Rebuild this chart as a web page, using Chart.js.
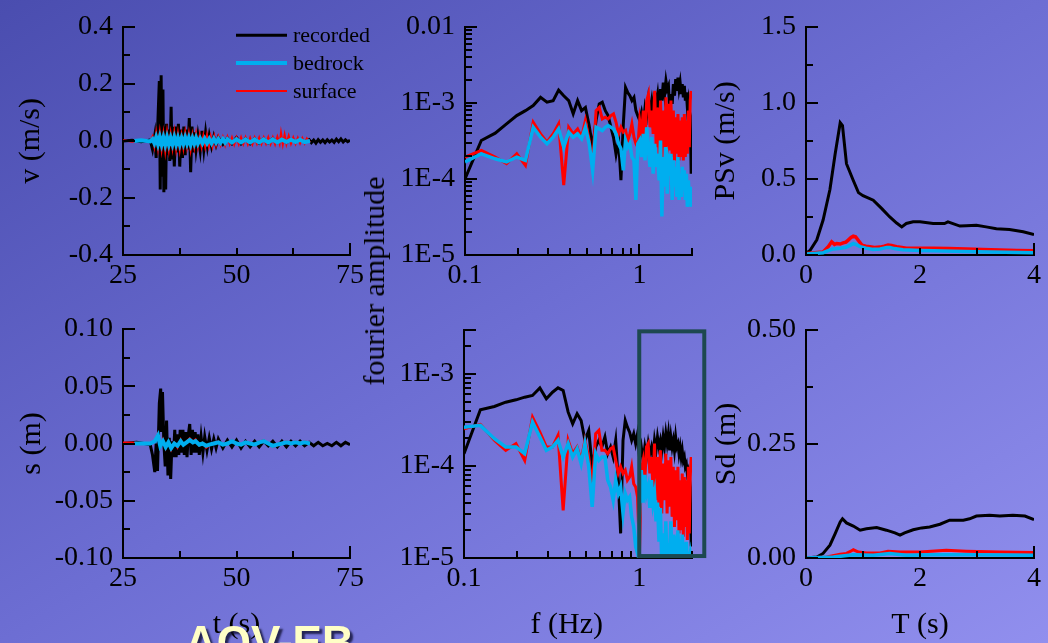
<!DOCTYPE html>
<html>
<head>
<meta charset="utf-8">
<title>AQV-EB ground motion</title>
<script src="https://cdn.jsdelivr.net/npm/chart.js@4.4.0/dist/chart.umd.min.js"></script>
<style>
  html, body { margin: 0; padding: 0; }
  body { width: 1048px; height: 643px; overflow: hidden; }
  #stage {
    position: relative; width: 1048px; height: 643px; overflow: hidden;
    background: linear-gradient(to bottom right, #4a4daf 0%, #6d6ed3 50%, #918fee 100%);
  }
  #stage canvas { position: absolute; left: 0; top: 0; }
  .txt { position: absolute; white-space: nowrap; line-height: 1; }
  #fourier {
    left: 374px; top: 281px; font: 30px "Liberation Serif", serif; color: #000;
    transform: translate(-50%, -50%) rotate(-90deg);
  }
  #station {
    left: 185px; top: 617px; font: bold 44px "Liberation Sans", Arial, sans-serif;
    color: #ffffc6; text-shadow: 3px 3px 2px rgba(10, 10, 40, 0.75);
  }
</style>
</head>
<body>
<div id="stage">
  <canvas id="cVel" width="1048" height="643"></canvas>
  <canvas id="cFasVel" width="1048" height="643"></canvas>
  <canvas id="cPsv" width="1048" height="643"></canvas>
  <canvas id="cDisp" width="1048" height="643"></canvas>
  <canvas id="cFasDisp" width="1048" height="643"></canvas>
  <canvas id="cSd" width="1048" height="643"></canvas>
  <div class="txt" id="fourier">fourier amplitude</div>
  <div class="txt" id="station">AQV-EB</div>
</div>
<script>
// ---------- series labels ----------
const seriesNames = ['recorded', 'bedrock', 'surface'];

// ---------- velocity time histories [t (s), v (m/s)] ----------
const velRecorded = [
  [25,0],[27,0.002],[29,-0.003],[31,0.003],[31.5,-0.03],[32,0.02],[32.3,-0.06],[32.6,0.03],
  [33,0.21],[33.2,-0.17],[33.4,0.23],[33.6,-0.12],[33.8,0.18],[34,-0.18],[34.2,0.05],[34.4,-0.17],
  [34.6,0.06],[34.8,-0.05],[35,0.04],[35.3,-0.07],[35.6,0.12],[35.8,-0.06],[36,0.05],[36.3,-0.09],
  [36.6,0.05],[36.9,-0.04],[37.2,0.06],[37.5,-0.09],[37.8,0.04],[38.1,-0.06],[38.4,0.05],[38.7,-0.05],
  [39,0.04],[39.3,-0.03],[39.6,0.08],[39.9,-0.11],[40.2,0.05],[40.5,-0.04],[40.8,0.03],[41.1,-0.03],
  [41.5,0.02],[42,-0.035],[42.4,0.035],[42.8,-0.03],[43.2,0.03],[43.6,-0.02],[44,0.02],[44.5,-0.02],
  [45,0.015],[45.5,-0.015],[46,0.012],[47,-0.012],[48,0.01],[49,-0.01],[50,0.012],[51,-0.01],
  [52,0.008],[53,-0.01],[54,0.008],[55,-0.008],[56,0.007],[57,-0.007],[58,0.008],[59,-0.006],
  [60,0.006],[61,-0.006],[62,0.005],[63,-0.005],[64,0.005],[65,-0.004],[66,0.004],[66.5,-0.006],
  [67,0.003],[67.5,-0.008],[68,0.004],[68.5,-0.005],[69,0.003],[69.5,-0.006],[70,0.004],[70.5,-0.004],
  [71,0.003],[71.5,-0.005],[72,0.006],[72.5,-0.003],[73,0.007],[73.5,-0.004],[74,0.004],[74.5,-0.003],[75,0.002]
];
const velBedrock = [
  [27.5,0],[29,0.002],[31,-0.002],[31.5,0.006],[31.9,-0.008],[32.3,0.012],[32.7,-0.011],[33.1,0.013],
  [33.5,-0.012],[33.9,0.011],[34.3,-0.013],[34.7,0.012],[35.1,-0.012],[35.5,0.01],[35.9,-0.011],[36.3,0.012],
  [36.7,-0.011],[37.1,0.01],[37.5,-0.012],[37.9,0.009],[38.3,-0.01],[38.7,0.011],[39.1,-0.009],[39.5,0.01],
  [39.9,-0.012],[40.3,0.009],[40.7,-0.009],[41.1,0.01],[41.5,-0.009],[42,0.008],[42.5,-0.008],[43,0.008],
  [43.5,-0.008],[44,0.007],[44.5,-0.008],[45,0.007],[45.5,-0.006],[46,0.006],[46.5,-0.006],[47,0.006],
  [47.5,-0.006],[48,0.006],[49,-0.006],[50,0.006],[51,-0.005],[52,0.005],[53,-0.005],[54,0.005],
  [55,-0.005],[56,0.005],[57,-0.005],[58,0.005],[59,-0.005],[60,0.005],[61,-0.004],[62,0.004],
  [63,-0.004],[64,0.004],[65,-0.004],[66.2,0]
];
const velSurface = [
  [25,0.002],[27,-0.003],[29,0.003],[31,-0.003],[31.5,0.015],[31.9,-0.02],[32.3,0.028],[32.7,-0.025],
  [33.1,0.03],[33.5,-0.03],[33.9,0.025],[34.3,-0.035],[34.7,0.03],[35.1,-0.03],[35.5,0.025],[35.9,-0.025],
  [36.3,0.03],[36.7,-0.028],[37.1,0.025],[37.5,-0.03],[37.9,0.02],[38.3,-0.025],[38.7,0.028],[39.1,-0.02],
  [39.5,0.025],[39.9,-0.03],[40.3,0.02],[40.7,-0.022],[41.1,0.025],[41.5,-0.02],[41.9,0.02],[42.3,-0.02],
  [42.7,0.018],[43.1,-0.02],[43.5,0.02],[43.9,-0.018],[44.3,0.015],[44.7,-0.018],[45.1,0.016],[45.5,-0.015],
  [46,0.015],[46.5,-0.014],[47,0.013],[47.5,-0.015],[48,0.014],[48.5,-0.012],[49,0.012],[49.5,-0.013],
  [50,0.012],[50.5,-0.012],[51,0.013],[51.5,-0.011],[52,0.012],[52.5,-0.012],[53,0.011],[53.5,-0.012],
  [54,0.012],[54.5,-0.01],[55,0.012],[55.5,-0.011],[56,0.012],[56.5,-0.01],[57,0.013],[57.5,-0.011],
  [58,0.012],[58.5,-0.012],[59,0.015],[59.5,-0.01],[59.8,0.028],[60.2,-0.012],[60.6,0.022],[61,-0.011],
  [61.5,0.018],[62,-0.01],[62.5,0.012],[63,-0.01],[63.5,0.011],[64,-0.009],[64.5,0.01],[65,-0.009],
  [65.5,0.009],[66.2,-0.005]
];

// ---------- displacement time histories [t (s), s (m)] ----------
const dispRecorded = [
  [25,0],[28,0.001],[31,-0.001],[31.5,-0.01],[32,-0.025],[32.3,0],[32.6,-0.024],[33,0.035],
  [33.3,0.048],[33.5,0.01],[33.7,0.045],[34,0],[34.3,-0.02],[34.6,0.02],[34.9,-0.028],[35.2,0.005],
  [35.5,-0.031],[35.8,0.002],[36.1,-0.012],[36.4,0.012],[36.7,-0.012],[37,0.008],[37.3,-0.01],[37.6,0.012],
  [37.9,-0.008],[38.2,0.012],[38.5,-0.01],[38.8,0.01],[39.1,-0.012],[39.4,0.008],[39.7,0.017],[40,-0.01],
  [40.3,0.012],[40.6,-0.008],[40.9,0.01],[41.2,-0.008],[41.5,0.008],[41.8,-0.01],[42.2,0.006],[42.6,-0.008],
  [43,0.006],[43.5,-0.006],[44,0.005],[44.5,-0.005],[45,0.004],[45.5,-0.004],[46,0.004],[47,-0.004],
  [48,0.003],[49,-0.003],[50,0.003],[51,-0.004],[52,0.002],[53,-0.003],[54,0.002],[55,-0.003],
  [56,0.002],[57,-0.002],[58,0.002],[59,-0.003],[60,0.002],[61,-0.003],[62,0.002],[63,-0.002],
  [64,0.002],[65,-0.002],[66,0.001],[67,-0.002],[68,0.001],[69,-0.002],[70,0],[71,-0.002],
  [72,0.001],[73,-0.002],[74,0.001],[75,-0.001]
];
const dispBedrock = [
  [27.5,0],[31,0],[32,0.002],[32.7,0.007],[33.2,-0.002],[33.8,0.002],[34.4,-0.003],[35,0.001],
  [35.6,-0.004],[36.3,0],[37,-0.002],[37.7,0.002],[38.3,-0.001],[39,0.001],[39.7,0.003],[40.4,0.001],
  [41,0.002],[41.8,-0.001],[42.5,0],[43.3,-0.002],[44,-0.001],[45,0],[46,0.001],[47,-0.001],
  [48,0],[49,0.002],[50,0],[51,-0.001],[52,0.001],[53,0],[54,-0.001],[55,0.001],
  [56,0.002],[57,0],[58,-0.002],[59,-0.001],[60,0],[61,0.001],[62,0],[63,0.001],
  [64,0],[65,0.001],[66.2,0]
];
const dispSurface = [
  [25,0.001],[27,0.001],[31,0],[32,0.002],[32.7,0.009],[33.2,-0.003],[33.8,0.004],[34.4,-0.005],
  [35,0.002],[35.6,-0.006],[36.3,0.001],[37,-0.004],[37.7,0.004],[38.3,-0.002],[39,0.002],[39.7,0.005],
  [40.4,0.002],[41,0.004],[41.8,-0.002],[42.5,0.001],[43.3,-0.004],[44,-0.002],[45,0.001],[46,0.002],
  [47,-0.002],[48,0.001],[49,0.003],[50,0],[51,-0.002],[52,0.002],[53,0.001],[54,-0.002],
  [55,0.002],[56,0.003],[57,0],[58,-0.003],[59,-0.002],[60,0.001],[61,0.002],[62,0.001],
  [63,0.002],[64,0.001],[65,0.002],[66.2,0.001]
];

// ---------- Fourier spectra ----------
const freqHz = [
  0.100,0.124,0.149,0.173,0.198,0.222,0.246,0.271,0.295,0.320,
  0.344,0.368,0.393,0.417,0.442,0.466,0.490,0.515,0.539,0.564,
  0.588,0.612,0.637,0.661,0.686,0.710,0.734,0.759,0.783,0.808,
  0.832,0.856,0.881,0.905,0.930,0.954,0.978,1.003,1.027,1.052,
  1.076,1.100,1.125,1.149,1.174,1.198,1.222,1.247,1.271,1.296,
  1.320,1.344,1.369,1.393,1.418,1.442,1.466,1.491,1.515,1.540,
  1.564,1.588,1.613,1.637,1.662,1.686,1.710,1.735,1.759,1.784,
  1.808,1.832,1.857,1.881,1.906,1.930,1.954,1.979
];
const fasVelRecorded = [
  1.0e-4,3.2e-4,4.0e-4,5.3e-4,6.8e-4,7.9e-4,9.2e-4,1.18e-3,1.02e-3,1.07e-3,
  1.47e-3,1.24e-3,1.07e-3,7.2e-4,1.07e-3,7.9e-4,8.7e-4,5.0e-4,2.6e-4,5.9e-4,
  9.7e-4,1.02e-3,7.9e-4,6.8e-4,4.8e-4,3.5e-4,2.1e-4,3.2e-4,9.6e-5,5.3e-4,
  1.59e-3,1.37e-3,1.24e-3,1.07e-3,1.18e-3,7.9e-4,6.8e-4,5.9e-4,7.5e-4,5.3e-4,
  8.7e-4,6.8e-4,1.12e-3,7.9e-4,1.07e-3,6.8e-4,1.37e-3,9.7e-4,1.30e-3,7.9e-4,
  1.52e-3,1.07e-3,1.85e-3,1.30e-3,1.95e-3,1.52e-3,1.68e-3,7.2e-4,1.30e-3,9.7e-4,
  1.76e-3,1.24e-3,2.05e-3,1.44e-3,2.15e-3,1.52e-3,1.85e-3,1.30e-3,1.76e-3,1.18e-3,
  1.68e-3,1.07e-3,1.37e-3,8.7e-4,1.07e-3,7.9e-4,6.8e-4,1.17e-4
];
const fasVelBedrock = [
  1.67e-4,2.14e-4,1.84e-4,1.67e-4,1.94e-4,1.75e-4,4.78e-4,3.54e-4,2.9e-4,3.54e-4,
  4.55e-4,2.62e-4,4.11e-4,3.54e-4,3.91e-4,3.37e-4,4.78e-4,2.9e-4,1.30e-4,4.78e-4,
  4.55e-4,4.33e-4,4.78e-4,5.03e-4,4.78e-4,4.55e-4,3.91e-4,2.9e-4,2.49e-4,1.30e-4,
  3.2e-4,2.62e-4,2.9e-4,1.94e-4,1.75e-4,5.3e-5,2.9e-4,3.2e-4,1.94e-4,3.91e-4,
  1.75e-4,4.78e-4,2.37e-4,1.44e-4,3.54e-4,1.17e-4,2.9e-4,1.44e-4,2.14e-4,9.6e-5,
  3.2e-4,3.2e-5,1.94e-4,7.9e-5,2.62e-4,6.4e-5,1.75e-4,1.44e-4,2.14e-4,5.3e-5,
  1.75e-4,7.9e-5,1.44e-4,5.8e-5,1.94e-4,5.3e-5,1.17e-4,5.8e-5,1.44e-4,7.9e-5,
  1.30e-4,5.3e-5,1.17e-4,4.3e-5,9.6e-5,5.3e-5,7.9e-5,4.3e-5
];
const fasVelSurface = [
  1.94e-4,2.37e-4,1.94e-4,1.59e-4,2.14e-4,1.51e-4,5.56e-4,3.91e-4,3.05e-4,3.91e-4,
  5.29e-4,8.3e-5,4.78e-4,3.91e-4,4.55e-4,3.54e-4,5.85e-4,3.2e-4,1.59e-4,7.9e-4,
  8.7e-4,6.15e-4,6.46e-4,6.15e-4,6.8e-4,7.15e-4,5.56e-4,3.91e-4,4.78e-4,4.11e-4,
  4.33e-4,3.2e-4,3.91e-4,5.29e-4,3.54e-4,2.9e-4,2.62e-4,5.85e-4,3.91e-4,7.9e-4,
  3.2e-4,1.07e-3,1.30e-3,4.78e-4,7.9e-4,3.91e-4,1.44e-3,2.62e-4,8.7e-4,2.14e-4,
  1.07e-3,1.94e-4,7.9e-4,2.62e-4,1.18e-3,1.94e-4,9.7e-4,2.37e-4,1.07e-3,1.94e-4,
  7.9e-4,1.75e-4,6.46e-4,2.14e-4,7.15e-4,1.75e-4,5.85e-4,1.94e-4,6.46e-4,1.75e-4,
  7.15e-4,1.94e-4,5.85e-4,2.14e-4,7.9e-4,2.62e-4,1.07e-3,1.44e-3
];
const fasDispRecorded = [
  1.36e-4,4.07e-4,4.43e-4,4.93e-4,5.23e-4,5.59e-4,5.83e-4,7.05e-4,5.36e-4,6.33e-4,
  7.05e-4,6.6e-4,3.84e-4,2.87e-4,3.69e-4,3.12e-4,1.90e-4,2.43e-4,9.8e-5,1.61e-4,
  1.90e-4,1.61e-4,2.06e-4,1.36e-4,1.61e-4,1.25e-4,1.90e-4,7.0e-5,1.85e-5,1.90e-4,
  3.12e-4,2.64e-4,2.33e-4,1.90e-4,2.24e-4,1.75e-4,2.24e-4,1.25e-4,1.61e-4,1.15e-4,
  1.61e-4,1.25e-4,1.75e-4,1.36e-4,1.61e-4,1.25e-4,1.90e-4,1.48e-4,2.06e-4,1.61e-4,
  1.90e-4,1.48e-4,2.06e-4,1.61e-4,2.24e-4,1.75e-4,2.24e-4,1.48e-4,2.06e-4,1.61e-4,
  1.90e-4,1.48e-4,2.06e-4,1.61e-4,1.75e-4,1.36e-4,1.61e-4,1.25e-4,1.48e-4,1.15e-4,
  1.25e-4,9.8e-5,1.05e-4,8.3e-5,9.0e-5,7.6e-5,5.9e-5,1.33e-5
];
const fasDispBedrock = [
  2.64e-4,2.76e-4,1.98e-4,1.61e-4,1.61e-4,1.36e-4,3.0e-4,2.06e-4,1.48e-4,1.61e-4,
  1.90e-4,1.25e-4,1.75e-4,1.25e-4,1.54e-4,1.06e-4,1.75e-4,9.8e-5,3.6e-5,1.36e-4,
  1.15e-4,1.25e-4,1.25e-4,7.0e-5,5.9e-5,4.25e-5,7.0e-5,5.0e-5,5.9e-5,3.05e-5,
  5.0e-5,4.25e-5,4.6e-5,2.8e-5,2.18e-5,1.33e-5,1.12e-5,3.0e-5,9.0e-5,4.0e-5,
  8.0e-5,5.0e-5,6.0e-5,3.5e-5,7.0e-5,4.0e-5,5.0e-5,2.5e-5,4.0e-5,1.5e-5,
  3.5e-5,8.8e-6,1.85e-5,9.5e-6,2.5e-5,8.1e-6,1.44e-5,1.12e-5,2.5e-5,8.8e-6,
  1.8e-5,8.8e-6,1.22e-5,9.5e-6,2.0e-5,8.8e-6,1.22e-5,1.03e-5,1.8e-5,8.8e-6,
  1.12e-5,9.5e-6,1.5e-5,8.8e-6,1.03e-5,9.5e-6,1.12e-5,9.5e-6
];
const fasDispSurface = [
  2.54e-4,2.83e-4,1.90e-4,1.48e-4,1.75e-4,1.15e-4,3.39e-4,2.33e-4,1.61e-4,1.61e-4,
  2.15e-4,3.3e-5,1.90e-4,1.36e-4,1.61e-4,1.15e-4,1.90e-4,1.25e-4,5.9e-5,2.24e-4,
  2.43e-4,1.48e-4,1.48e-4,1.36e-4,1.54e-4,1.61e-4,1.15e-4,8.3e-5,9.8e-5,8.3e-5,
  9.0e-5,7.0e-5,7.6e-5,9.8e-5,6.4e-5,5.9e-5,4.6e-5,1.12e-5,9.0e-5,1.15e-4,
  7.0e-5,1.61e-4,1.75e-4,8.3e-5,1.25e-4,5.9e-5,1.75e-4,4.25e-5,1.25e-4,3.6e-5,
  1.48e-4,3.05e-5,1.06e-4,4.25e-5,1.36e-4,3.05e-5,1.15e-4,3.6e-5,1.25e-4,2.8e-5,
  9.8e-5,2.18e-5,9.0e-5,2.58e-5,9.8e-5,1.85e-5,7.0e-5,2.01e-5,8.3e-5,1.70e-5,
  7.6e-5,2.18e-5,7.0e-5,1.57e-5,9.8e-5,1.85e-5,7.6e-5,1.25e-4
];

// ---------- response spectra [T (s), value] ----------
const psvRecorded = [
  [0,0.01],[0.07,0.03],[0.19,0.1],[0.3,0.23],[0.42,0.43],[0.51,0.66],[0.6,0.87],[0.64,0.85],
  [0.71,0.6],[0.83,0.49],[0.92,0.41],[1.0,0.39],[1.18,0.36],[1.33,0.305],[1.47,0.25],[1.59,0.21],
  [1.68,0.185],[1.76,0.207],[1.88,0.218],[2.0,0.218],[2.23,0.207],[2.43,0.207],[2.49,0.218],[2.7,0.19],
  [2.81,0.192],[2.99,0.196],[3.16,0.185],[3.34,0.172],[3.57,0.168],[3.81,0.153],[4.0,0.135]
];
const psvBedrock = [
  [0,0.007],[0.3,0.015],[0.4,0.03],[0.48,0.04],[0.6,0.044],[0.7,0.05],[0.78,0.065],[0.83,0.076],
  [0.88,0.068],[0.95,0.055],[1.05,0.045],[1.18,0.037],[1.3,0.04],[1.42,0.05],[1.47,0.05],[1.55,0.042],
  [1.7,0.035],[2.0,0.03],[2.23,0.028],[2.6,0.025],[3.0,0.022],[3.5,0.018],[4.0,0.015]
];
const psvSurface = [
  [0,0.01],[0.3,0.02],[0.39,0.055],[0.45,0.087],[0.5,0.07],[0.54,0.076],[0.6,0.072],[0.65,0.08],
  [0.7,0.085],[0.74,0.098],[0.79,0.115],[0.83,0.124],[0.87,0.12],[0.89,0.11],[0.94,0.085],[0.98,0.065],
  [1.05,0.058],[1.12,0.055],[1.2,0.05],[1.3,0.052],[1.37,0.058],[1.44,0.065],[1.5,0.062],[1.59,0.055],
  [1.68,0.05],[1.76,0.044],[2.0,0.044],[2.23,0.044],[2.5,0.042],[2.81,0.039],[3.1,0.036],[3.4,0.033],
  [3.7,0.03],[4.0,0.028]
];
const sdRecorded = [
  [0,0],[0.19,0.002],[0.3,0.01],[0.42,0.028],[0.51,0.053],[0.6,0.079],[0.64,0.086],[0.71,0.077],
  [0.83,0.07],[0.95,0.061],[1.06,0.064],[1.24,0.067],[1.41,0.061],[1.56,0.055],[1.65,0.05],[1.73,0.055],
  [1.88,0.062],[2.03,0.066],[2.17,0.068],[2.35,0.074],[2.52,0.083],[2.76,0.083],[2.87,0.086],[2.99,0.092],
  [3.22,0.094],[3.4,0.092],[3.63,0.094],[3.84,0.092],[4.0,0.084]
];
const sdBedrock = [
  [0,0],[0.48,0.002],[0.83,0.007],[1.18,0.006],[1.47,0.01],[1.76,0.006],[2.23,0.007],[2.81,0.007],[4.0,0.006]
];
const sdSurface = [
  [0,0],[0.36,0.002],[0.6,0.008],[0.71,0.01],[0.8,0.016],[0.83,0.018],[0.92,0.013],[1.06,0.011],
  [1.3,0.011],[1.44,0.015],[1.65,0.013],[2.0,0.013],[2.46,0.017],[2.81,0.015],[3.4,0.013],[4.0,0.012]
];

// ---------- drawing ----------
const W = 1048, H = 643;
const SERIF = '"Liberation Serif", "Times New Roman", serif';
const tickFont = { family: SERIF, size: 28 };
const titleFont = { family: SERIF, size: 30 };
const INK = '#000000';
const LINE = {
  recorded: { color: '#000000', order: 3 },
  bedrock:  { color: '#00aeef', order: 1 },
  surface:  { color: '#ff0000', order: 2 }
};

const pairsToPoints = pairs => pairs.map(([x, y]) => ({ x, y }));
const zipPoints = (xs, ys) => xs.map((x, i) => ({ x, y: ys[i] }));

function series(name, points, width) {
  return {
    label: name, data: points, borderColor: LINE[name].color, backgroundColor: LINE[name].color,
    borderWidth: width, pointRadius: 0, fill: false, tension: 0, order: LINE[name].order,
    borderJoinStyle: 'miter'
  };
}

// tick marks pointing into the plot area
function tickMarks(scale) {
  const marks = [];
  const horiz = scale.isHorizontal();
  const near = (a, b) => Math.abs(a - b) <= Math.abs(b) * 1e-7 + 1e-12;
  if (scale.type === 'logarithmic') {
    const lo = Math.floor(Math.log10(scale.min) + 1e-9);
    const hi = Math.ceil(Math.log10(scale.max) - 1e-9);
    for (let e = lo; e <= hi; e++) {
      for (let m = 1; m <= 9; m++) {
        const v = m * Math.pow(10, e);
        if (v < scale.min * (1 - 1e-9) || v > scale.max * (1 + 1e-9)) continue;
        const decade = m === 1;
        let len;
        if (horiz) len = decade ? 11 : 7;
        else len = (decade || near(v, scale.max)) ? 12 : 7;
        marks.push({ value: v, len });
      }
    }
  } else {
    const vals = scale.ticks.map(t => t.value);
    vals.forEach((v, i) => {
      const atMax = near(v, scale.max);
      marks.push({ value: v, len: horiz ? (atMax ? 12 : 7) : 12 });
      if (i < vals.length - 1) marks.push({ value: (v + vals[i + 1]) / 2, len: 7 });
    });
  }
  return marks;
}

const innerTicks = {
  id: 'innerTicks',
  afterDraw(chart) {
    const { ctx, chartArea } = chart;
    ctx.save();
    ctx.strokeStyle = INK;
    ctx.lineWidth = 2;
    Object.values(chart.scales).forEach(scale => {
      tickMarks(scale).forEach(m => {
        const p = Math.round(scale.getPixelForValue(m.value));
        ctx.beginPath();
        if (scale.isHorizontal()) {
          ctx.moveTo(p, chartArea.bottom);
          ctx.lineTo(p, chartArea.bottom - m.len);
        } else {
          ctx.moveTo(chartArea.left, p);
          ctx.lineTo(chartArea.left + m.len, p);
        }
        ctx.stroke();
      });
    });
    ctx.restore();
  }
};

const legendBox = {
  id: 'legendBox',
  afterDraw(chart, args, opts) {
    if (!opts || !opts.show) return;
    const { ctx, chartArea } = chart;
    ctx.save();
    ctx.font = opts.fontSize + 'px ' + SERIF;
    ctx.textBaseline = 'middle';
    ctx.textAlign = 'left';
    ctx.fillStyle = INK;
    chart.data.datasets.forEach((ds, i) => {
      const y = chartArea.top + opts.offsetY + i * opts.rowGap;
      const x0 = chartArea.left + opts.offsetX;
      ctx.strokeStyle = ds.borderColor;
      ctx.lineWidth = ds.borderWidth;
      ctx.beginPath();
      ctx.moveTo(x0, y);
      ctx.lineTo(x0 + opts.lineLen, y);
      ctx.stroke();
      ctx.fillText(ds.label, x0 + opts.lineLen + opts.gap, y + 1);
    });
    ctx.restore();
  }
};

// highlight box given in data coordinates (frequency, amplitude)
const bandFrame = {
  id: 'bandFrame',
  afterDraw(chart, args, opts) {
    if (!opts || !opts.show) return;
    const { ctx } = chart;
    const xs = chart.scales.x, ys = chart.scales.y;
    const x1 = xs.getPixelForValue(opts.f[0]), x2 = xs.getPixelForValue(opts.f[1]);
    const y1 = ys.getPixelForValue(opts.a[0]), y2 = ys.getPixelForValue(opts.a[1]);
    ctx.save();
    ctx.strokeStyle = opts.color;
    ctx.lineWidth = opts.width;
    ctx.strokeRect(x1, y1, x2 - x1, y2 - y1);
    ctx.restore();
  }
};

function linearAxis(min, max, step, digits, title, pad) {
  return {
    type: 'linear', min, max,
    grid: { display: false, drawTicks: false },
    border: { display: true, color: INK, width: 2 },
    ticks: {
      stepSize: step, autoSkip: false, maxRotation: 0, minRotation: 0, padding: pad,
      color: INK, font: tickFont, callback: v => Number(v).toFixed(digits)
    },
    title: title ? { display: true, text: title, color: INK, font: titleFont, padding: { top: 0, bottom: 0 } } : { display: false }
  };
}

function logAxis(min, max, fmt, title, pad) {
  return {
    type: 'logarithmic', min, max,
    grid: { display: false, drawTicks: false },
    border: { display: true, color: INK, width: 2 },
    ticks: {
      autoSkip: false, maxRotation: 0, minRotation: 0, padding: pad, color: INK, font: tickFont,
      callback: v => {
        const e = Math.log10(v), r = Math.round(e);
        return Math.abs(e - r) < 1e-6 ? fmt(r) : '';
      }
    },
    title: title ? { display: true, text: title, color: INK, font: titleFont, padding: { top: 0, bottom: 0 } } : { display: false }
  };
}

function panel(id, box, datasets, xAxis, yAxis, extra) {
  extra = extra || {};
  xAxis.afterFit = s => { s.height = box.xH; };
  yAxis.afterFit = s => { s.width = box.yW; };
  return new Chart(document.getElementById(id), {
    type: 'line',
    data: { datasets },
    options: {
      responsive: false, maintainAspectRatio: false, animation: false, devicePixelRatio: 1, events: [],
      layout: { padding: { left: box.left - box.yW, top: box.top, right: W - box.right, bottom: H - box.bottom - box.xH } },
      plugins: {
        legend: { display: false }, tooltip: { enabled: false }, title: { display: false },
        legendBox: extra.legend || { show: false },
        bandFrame: extra.frame || { show: false }
      },
      scales: { x: xAxis, y: yAxis }
    },
    plugins: [innerTicks, legendBox, bandFrame]
  });
}

const yLogFmt = r => (r === -2 ? '0.01' : '1E' + r);
const xLogFmt = r => (r === -1 ? '0.1' : String(Math.pow(10, r)));
const XPAD = 4, YPAD = 10;

// velocity time history
panel('cVel', { left: 123, top: 26, right: 350, bottom: 255, yW: 110, xH: 40 },
  [series('recorded', pairsToPoints(velRecorded), 3),
   series('bedrock', pairsToPoints(velBedrock), 4),
   series('surface', pairsToPoints(velSurface), 2)],
  linearAxis(25, 75, 25, 0, null, XPAD),
  linearAxis(-0.4, 0.4, 0.2, 1, 'v (m/s)', YPAD),
  { legend: { show: true, offsetX: 113, offsetY: 8.5, rowGap: 27.8, lineLen: 51, gap: 6, fontSize: 22 } });

// Fourier amplitude of velocity
panel('cFasVel', { left: 465, top: 26, right: 692, bottom: 255, yW: 80, xH: 40 },
  [series('recorded', zipPoints(freqHz, fasVelRecorded), 3),
   series('bedrock', zipPoints(freqHz, fasVelBedrock), 3.5),
   series('surface', zipPoints(freqHz, fasVelSurface), 3)],
  logAxis(0.1, 2, xLogFmt, null, XPAD),
  logAxis(1e-5, 1e-2, yLogFmt, null, YPAD));

// pseudo spectral velocity
panel('cPsv', { left: 806, top: 26, right: 1034, bottom: 255, yW: 98, xH: 40 },
  [series('recorded', pairsToPoints(psvRecorded), 3),
   series('bedrock', pairsToPoints(psvBedrock), 3.5),
   series('surface', pairsToPoints(psvSurface), 3.5)],
  linearAxis(0, 4, 2, 0, null, XPAD),
  linearAxis(0, 1.5, 0.5, 1, 'PSv (m/s)', YPAD));

// displacement time history
panel('cDisp', { left: 123, top: 329, right: 350, bottom: 558, yW: 109, xH: 85 },
  [series('recorded', pairsToPoints(dispRecorded), 3),
   series('bedrock', pairsToPoints(dispBedrock), 4),
   series('surface', pairsToPoints(dispSurface), 1.5)],
  linearAxis(25, 75, 25, 0, 't (s)', XPAD),
  linearAxis(-0.1, 0.1, 0.05, 2, 's (m)', YPAD));

// Fourier amplitude of displacement
panel('cFasDisp', { left: 464, top: 330, right: 692, bottom: 558, yW: 80, xH: 85 },
  [series('recorded', zipPoints(freqHz, fasDispRecorded), 3),
   series('bedrock', zipPoints(freqHz, fasDispBedrock), 3.5),
   series('surface', zipPoints(freqHz, fasDispSurface), 3)],
  logAxis(0.1, 2, xLogFmt, 'f (Hz)\u00a0\u00a0\u00a0', XPAD),
  logAxis(1e-5, 3e-3, yLogFmt, null, YPAD),
  { frame: { show: true, f: [1.0, 2.35], a: [2.9e-3, 1.05e-5], color: '#1d4850', width: 4 } });

// spectral displacement
panel('cSd', { left: 806, top: 330, right: 1034, bottom: 558, yW: 97, xH: 85 },
  [series('recorded', pairsToPoints(sdRecorded), 3),
   series('bedrock', pairsToPoints(sdBedrock), 3.5),
   series('surface', pairsToPoints(sdSurface), 3)],
  linearAxis(0, 4, 2, 0, 'T (s)', XPAD),
  linearAxis(0, 0.5, 0.25, 2, 'Sd (m)', YPAD));
</script>
</body>
</html>
